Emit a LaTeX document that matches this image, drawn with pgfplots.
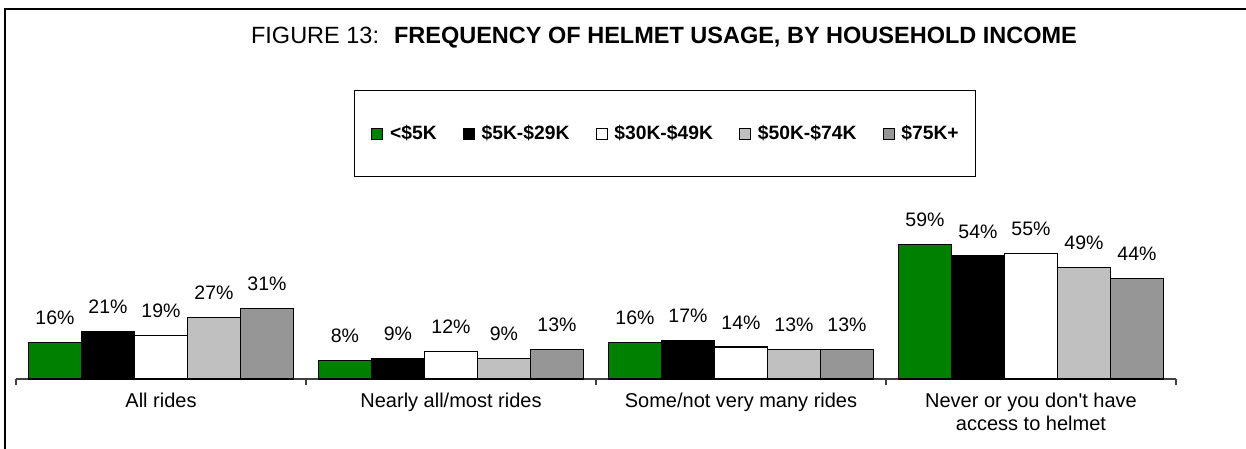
\documentclass[border=0pt]{standalone}
\usepackage{fontspec}
\setmainfont{Liberation Sans}
\usepackage{pgfplots}
\pgfplotsset{compat=1.18}
\definecolor{xlgreen}{RGB}{0,128,0}
\definecolor{xlsilver}{RGB}{192,192,192}
\definecolor{xlgray}{RGB}{150,150,150}
\begin{document}
\begin{tikzpicture}[x=1pt,y=1pt]
\useasboundingbox (0,0) rectangle (1246,449);
\draw[line width=2.2pt] (5,0) -- (5,440) -- (1246,440);
\node[anchor=base,inner sep=0pt] at (664,405) {\fontsize{23.5}{27}\selectfont FIGURE 13:\hspace{15pt}\textbf{FREQUENCY OF HELMET USAGE, BY HOUSEHOLD INCOME}};
\begin{axis}[
  at={(16pt,70pt)}, anchor=south west, scale only axis,
  width=1160pt, height=182.4pt,
  xmin=-0.5, xmax=3.5, ymin=0, ymax=80,
  ybar=0pt, bar width=53pt,
  axis x line*=bottom, axis y line=none,
  x axis line style={-, line width=1.2pt, black!75},
  xtick={0,1,2,3},
  xticklabels={All rides, Nearly all/most rides, Some/not very many rides, {Never or you don\textquotesingle t have\\access to helmet}},
  xticklabel style={align=center, font=\fontsize{20}{23}\selectfont, inner sep=0pt, yshift=-14pt},
  major tick length=0pt,
  minor xtick={-0.5,0.5,1.5,2.5,3.5},
  minor tick length=6pt,
  tick align=outside,
  minor tick style={line width=1.2pt, black!75},
  clip=false,
  /pgf/number format/assume math mode=true,
  nodes near coords={\pgfmathprintnumber{\pgfplotspointmeta}\%},
  every node near coord/.append style={font=\fontsize{19.5}{22}\selectfont, inner sep=0pt, anchor=south, yshift=17pt, text=black},
  legend columns=5,
  legend style={at={(0.5595,1.346)}, anchor=center, draw=black, line width=1.2pt,
    inner xsep=17pt, inner ysep=35pt, font=\fontsize{19.3}{22}\selectfont\bfseries,
    nodes={inner sep=0pt},
    /tikz/every odd column/.append style={column sep=7pt},
    /tikz/every even column/.append style={column sep=26pt}},
  legend image code/.code={\draw[#1, line width=0.8pt] (0pt,-5.5pt) rectangle (11pt,5.5pt);},
]
\addplot[fill=xlgreen, draw=black, line width=1.2pt] coordinates {(0,16) (1,8) (2,16) (3,59)};
\addplot[fill=black, draw=black, line width=1.2pt] coordinates {(0,21) (1,9) (2,17) (3,54)};
\addplot[fill=white, draw=black, line width=1.2pt] coordinates {(0,19) (1,12) (2,14) (3,55)};
\addplot[fill=xlsilver, draw=black, line width=1.2pt] coordinates {(0,27) (1,9) (2,13) (3,49)};
\addplot[fill=xlgray, draw=black, line width=1.2pt] coordinates {(0,31) (1,13) (2,13) (3,44)};
\legend{<\$5K, \$5K-\$29K, \$30K-\$49K, \$50K-\$74K, \$75K+}
\end{axis}
\end{tikzpicture}
\end{document}
